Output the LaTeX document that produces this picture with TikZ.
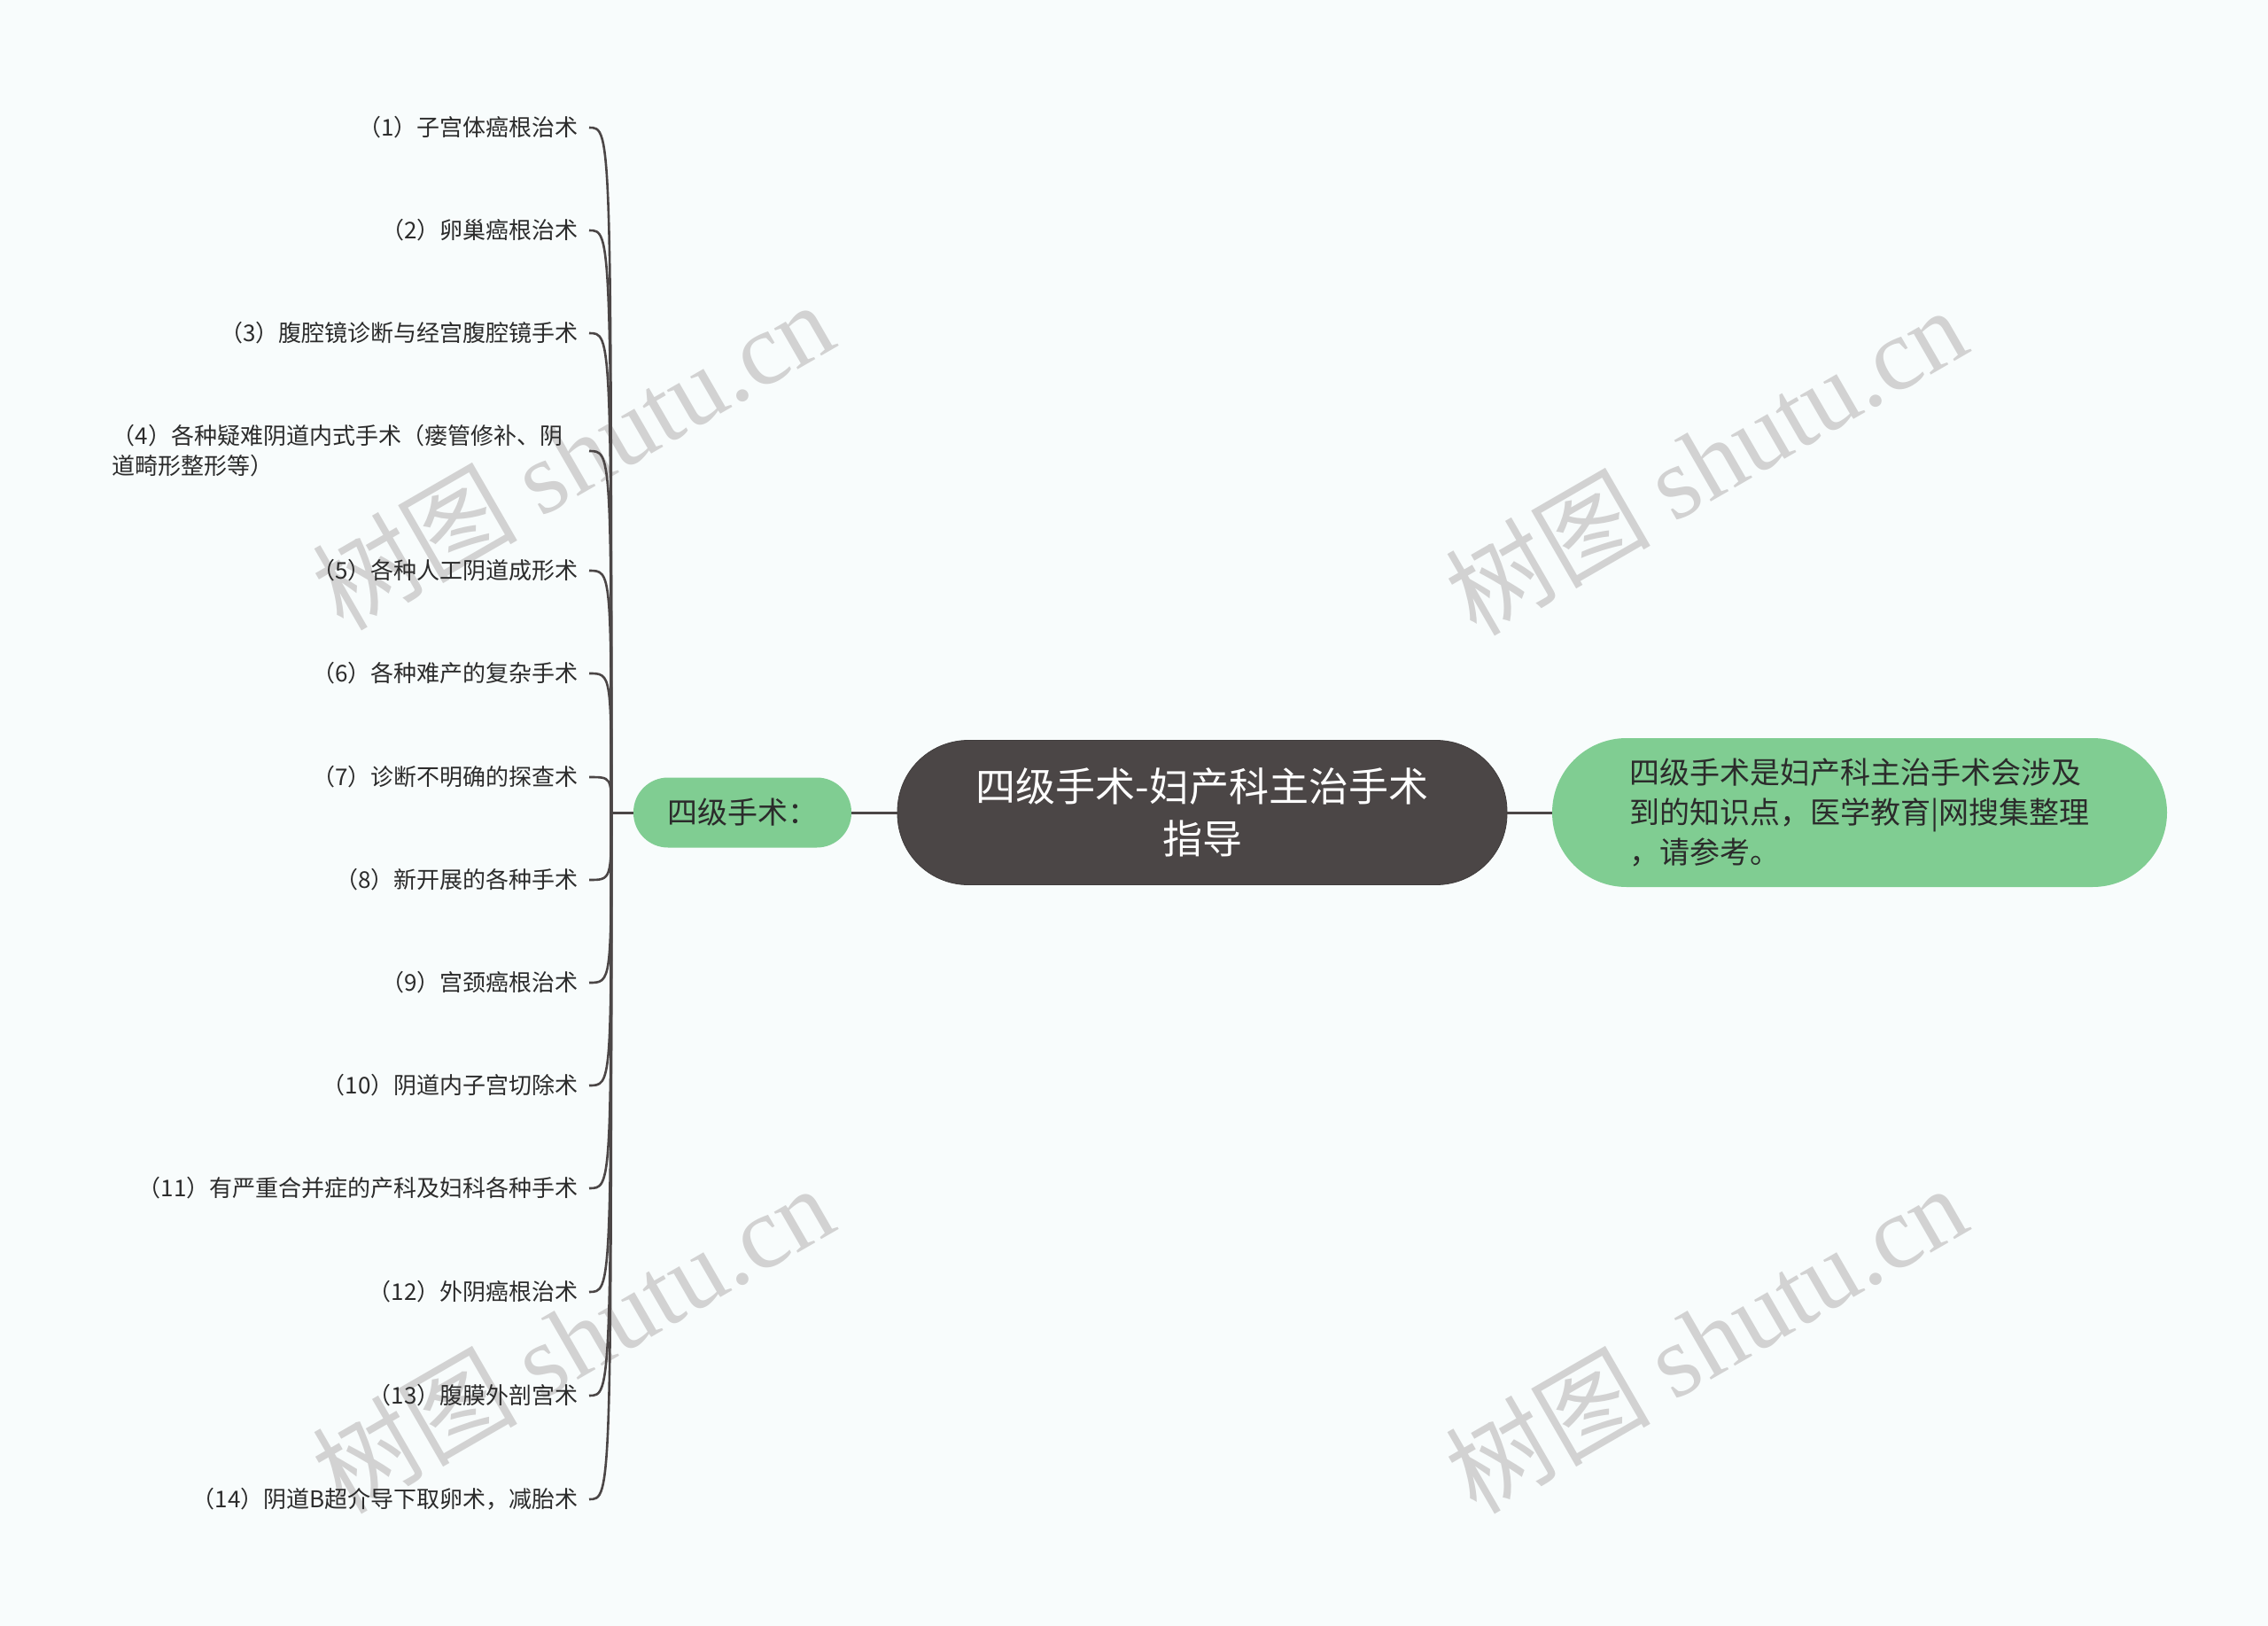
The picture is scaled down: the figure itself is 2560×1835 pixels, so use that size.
\documentclass[tikz,border=0pt]{standalone}
\usepackage{fontspec}
\setmainfont{Noto Sans CJK SC}
\newfontfamily\wmfont{Liberation Serif}
\usepackage{xcolor}
\usepackage{tikz}
\usetikzlibrary{positioning,calc}
\definecolor{mmbg}{HTML}{F8FCFC}
\definecolor{mmdark}{HTML}{4B4646}
\definecolor{mmgreen}{HTML}{80CD92}
\definecolor{mmtext}{HTML}{2B2B2B}
\definecolor{mmwm}{HTML}{D2D2D2}

\begin{document}
\begin{tikzpicture}[x=0.5pt,y=-0.5pt,
  rootbox/.style={rectangle,rounded corners=40pt,draw=mmdark!85!black,fill=mmdark,text=white,align=center,inner sep=0pt,minimum width=344pt,minimum height=81.5pt,font=\fontsize{22.5}{29.5}\selectfont},
  topicbox/.style={rectangle,rounded corners=19.5pt,fill=mmgreen,text=mmtext,inner sep=0pt,minimum width=123pt,minimum height=39.5pt,font=\fontsize{17}{22.5}\selectfont},
  notebox/.style={rectangle,rounded corners=42pt,fill=mmgreen,text=mmtext,align=left,inner sep=0pt,minimum width=347pt,minimum height=84pt,font=\fontsize{17}{22.5}\selectfont},
  leafitem/.style={anchor=east,align=left,inner xsep=6pt,inner ysep=2pt,text=mmtext,font=\fontsize{13}{17}\selectfont},
  wmark/.style={rotate=30,text=mmwm,font=\fontsize{58}{58}\selectfont},
  ln/.style={mmdark,line width=1.5pt},
  br/.style={mmdark,line width=1.3pt}]
  \useasboundingbox (0,0) rectangle (2560,1835);
  \fill[mmbg] (0,0) rectangle (2560,1835);
  % watermarks
  \node[wmark] (wm1) at (646,513)  {树图 {\wmfont shutu.cn}};
  \node[wmark] (wm2) at (1925,519) {树图 {\wmfont shutu.cn}};
  \node[wmark] (wm3) at (646,1510) {树图 {\wmfont shutu.cn}};
  \node[wmark] (wm4) at (1925,1510) {树图 {\wmfont shutu.cn}};
  % main nodes
  \node[rootbox]  (root) at (1357,917) {四级手术-妇产科主治手术\\指导};
  \node[topicbox] (lvl)  at (838,917)  {四级手术：};
  \node[notebox]  (note) at (2099,917) {四级手术是妇产科主治手术会涉及\\到的知识点，医学教育|网搜集整理\\，请参考。};
  \coordinate (jn) at (690,917);
  % leaves
  \node[leafitem] (l1)  at (665,144)  {（1）子宫体癌根治术};
  \node[leafitem] (l2)  at (665,260)  {（2）卵巢癌根治术};
  \node[leafitem] (l3)  at (665,376)  {（3）腹腔镜诊断与经宫腹腔镜手术};
  \node[leafitem,text width=263pt] (l4) at (665,509) {（4）各种疑难阴道内式手术（瘘管修补、阴\\道畸形整形等）};
  \node[leafitem] (l5)  at (665,644)  {（5）各种人工阴道成形术};
  \node[leafitem] (l6)  at (665,760)  {（6）各种难产的复杂手术};
  \node[leafitem] (l7)  at (665,877)  {（7）诊断不明确的探查术};
  \node[leafitem] (l8)  at (665,993)  {（8）新开展的各种手术};
  \node[leafitem] (l9)  at (665,1109) {（9）宫颈癌根治术};
  \node[leafitem] (l10) at (665,1225) {（10）阴道内子宫切除术};
  \node[leafitem] (l11) at (665,1341) {（11）有严重合并症的产科及妇科各种手术};
  \node[leafitem] (l12) at (665,1458) {（12）外阴癌根治术};
  \node[leafitem] (l13) at (665,1575) {（13）腹膜外剖宫术};
  \node[leafitem] (l14) at (665,1692) {（14）阴道B超介导下取卵术，减胎术};
  % connectors
  \draw[ln] (root) -- (note);
  \draw[ln] (root) -- (lvl);
  \draw[ln] (lvl) -- (jn);
  \foreach \k in {1,...,14}
    \draw[br] (jn) .. controls (jn |- l\k.east) .. (l\k.east);
\end{tikzpicture}
\end{document}
